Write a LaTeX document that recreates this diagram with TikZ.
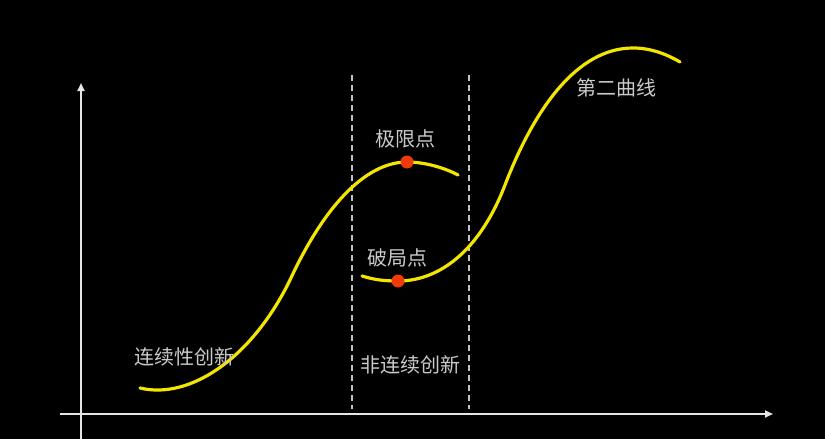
\documentclass[tikz,border=0pt]{standalone}
\usepackage{fontspec}
\setmainfont{Noto Sans CJK SC}
\usepackage{tikz}
\usetikzlibrary{arrows.meta, positioning}
\definecolor{negro}{HTML}{000000}
\definecolor{blanco}{HTML}{E6E6E6}
\definecolor{gris}{HTML}{C4C4C4}
\definecolor{amarillo}{HTML}{F2E600}
\definecolor{rojo}{HTML}{F03A0A}
\definecolor{grisclaro}{HTML}{CACACA}
\tikzset{
  eje/.style={-{Triangle[length=8pt, width=7pt]}, line width=2.8pt, blanco},
  guia/.style={line width=1.7pt, gris, dash pattern=on 6pt off 4pt},
  curvas/.style={line width=3.2pt, amarillo, line cap=round},
  punto/.style={circle, fill=rojo, inner sep=0pt, minimum size=13pt},
  etiqueta/.style={text=grisclaro, inner sep=1pt,
    font=\fontsize{20}{22}\selectfont}
}

\begin{document}
\begin{tikzpicture}[x=1pt, y=-1pt, node distance=8pt]

  % --- Fondo ---
  \fill[negro] (0,0) rectangle (825,439);
  \useasboundingbox (0,0) rectangle (825,439);

  % --- Ejes ---
  \coordinate (origenY) at (81,439);
  \coordinate (finY) at (81,83);
  \coordinate (origenX) at (60,414);
  \coordinate (finX) at (773,414);
  \draw[eje] (origenY) -- (finY);
  \draw[eje] (origenX) -- (finX);

  % --- Franja discontinua ---
  \coordinate (guiaIa) at (352,75);
  \coordinate (guiaIb) at (352,409);
  \coordinate (guiaDa) at (469,75);
  \coordinate (guiaDb) at (469,409);
  \draw[guia] (guiaIa) -- (guiaIb);
  \draw[guia] (guiaDa) -- (guiaDb);

  % --- Primera curva ---
  \draw[curvas] (140,388) .. controls (190,400) and (252,358) ..
    (290,280) .. controls (328,198) and (370,162) ..
    (407,162) .. controls (425,162) and (445,168) .. (458,175);

  % --- Segunda curva ---
  \draw[curvas] (362,276) .. controls (375,280) and (385,281) ..
    (398,281) .. controls (440,281) and (480,250) ..
    (505,185) .. controls (535,107) and (578,48) ..
    (633,48) .. controls (652,48) and (668,55) .. (680,62);

  % --- Puntos ---
  \node[punto] (limite) at (407,162) {};
  \node[punto] (ruptura) at (398,281) {};

  % --- Etiquetas ---
  \node[etiqueta, above=of limite, xshift=-2pt, yshift=-2pt] (txtlimite) {极限点};
  \node[etiqueta, above=of ruptura, xshift=-1pt, yshift=-2pt] (txtruptura) {破局点};
  \node[etiqueta] (continua) at (184,357) {连续性创新};
  \node[etiqueta] (discontinua) at (410,365) {非连续创新};
  \node[etiqueta] (segunda) at (616,88) {第二曲线};

\end{tikzpicture}
\end{document}
